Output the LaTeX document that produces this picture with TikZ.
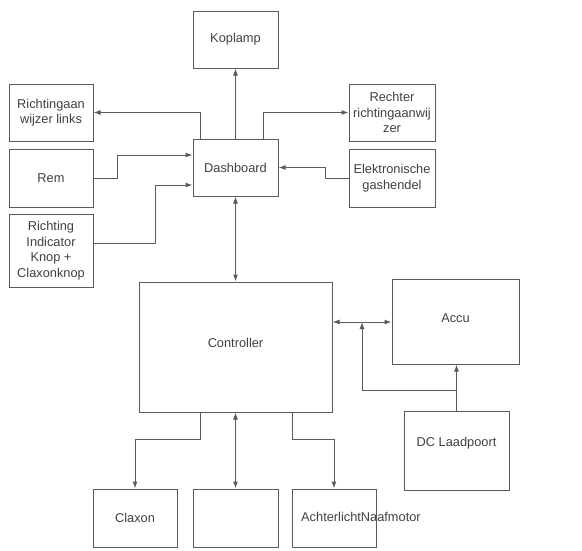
\documentclass[tikz,border=0pt]{standalone}
\usepackage{fontspec}
\setmainfont{Liberation Sans}
\usetikzlibrary{arrows.meta}
\definecolor{ln}{HTML}{5A5A5A}
\definecolor{tx}{HTML}{404040}
\newcommand\upby[2]{\raisebox{#1}[\height][\depth]{#2}}
\tikzset{
  blk/.style={draw=ln, line width=1pt, inner sep=0pt, align=center, text=tx,
    font=\fontsize{12.8pt}{15.5pt}\selectfont},
  lbl/.style={inner sep=0pt, text=tx, font=\fontsize{12.8pt}{15.5pt}\selectfont},
  con/.style={draw=ln, line width=1pt, -{Latex[length=7pt,width=5pt]}},
  bicon/.style={draw=ln, line width=1pt, {Latex[length=7pt,width=5pt]}-{Latex[length=7pt,width=5pt]}}
}
\begin{document}
\begin{tikzpicture}[x=1pt,y=-1pt]
\useasboundingbox (0,0) rectangle (582,550);
\node[blk, minimum width=85pt, minimum height=57pt] (kop) at (235.5,39.5) {Koplamp};
\node[blk, minimum width=84pt, minimum height=57pt] (rl) at (51,112.5) {Richtingaan\\wijzer links};
\node[blk, minimum width=86pt, minimum height=57pt] (rr) at (392,112.5) {Rechter\\richtingaanwij\\zer};
\node[blk, minimum width=85pt, minimum height=57pt] (dash) at (235.5,167.5) {Dashboard};
\node[blk, minimum width=84pt, minimum height=58pt] (rem) at (51,178) {Rem};
\node[blk, minimum width=86pt, minimum height=58pt] (gas) at (392,178) {Elektronische\\gashendel};
\node[blk, minimum width=84pt, minimum height=73pt] (ri) at (51,250.5) {Richting\\Indicator\\Knop +\\Claxonknop};
\node[blk, minimum width=193pt, minimum height=130pt] (ctrl) at (235.5,347) {\upby{4pt}{Controller}};
\node[blk, minimum width=127pt, minimum height=85pt] (accu) at (455.5,321.5) {\upby{3.5pt}{Accu}};
\node[blk, minimum width=105pt, minimum height=79pt] (dc) at (456.5,450.5) {\upby{7.5pt}{DC Laadpoort}};
\node[blk, minimum width=84pt, minimum height=58pt] (clax) at (135,518) {Claxon};
\node[blk, minimum width=85pt, minimum height=58pt] (empty) at (235.5,518) {};
\node[blk, minimum width=84pt, minimum height=58pt] (acht) at (334,518) {};
\node[lbl, anchor=west] (achtt) at (301,517) {AchterlichtNaafmotor};

\draw[con] (dash.north) -- (kop.south);
\draw[con] ([xshift=-35.5pt]dash.north) |- (rl.east);
\draw[con] ([xshift=27.5pt]dash.north) |- (rr.west);
\draw[con] (rem.east) -- ++(24,0) |- ([yshift=12.5pt]dash.west);
\draw[con] ([yshift=7.5pt]ri.east) -- ++(62,0) |- ([yshift=-17.5pt]dash.west);
\draw[con] (gas.west) -- ++(-23,0) |- (dash.east);
\draw[bicon] (dash.south) -- (ctrl.north);

\coordinate (ca) at ([yshift=25pt]ctrl.east);
\coordinate (jn) at (362,322);
\draw[bicon] (ca) -- (ca -| accu.west);
\draw[con] (dc.north) -- (dc.north |- accu.south);
\draw[con] (dc.north) ++(0,-20) -| (jn);

\draw[con] ([xshift=-35.5pt]ctrl.south) -- ++(0,27) -| (clax.north);
\draw[bicon] (ctrl.south) -- (empty.north);
\draw[con] ([xshift=56.5pt]ctrl.south) -- ++(0,27) -| (acht.north);
\end{tikzpicture}
\end{document}
